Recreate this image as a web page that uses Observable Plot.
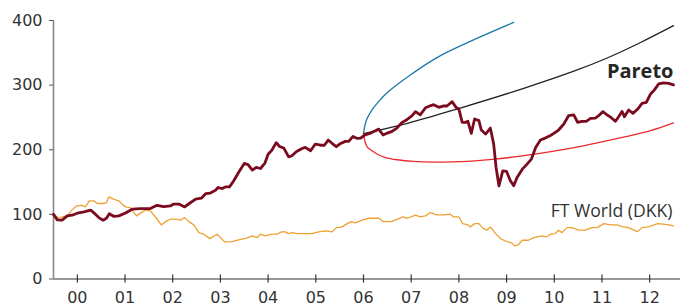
<!DOCTYPE html>
<html><head><meta charset="utf-8">
<script src="https://cdn.jsdelivr.net/npm/d3@7"></script>
<script src="https://cdn.jsdelivr.net/npm/@observablehq/plot@0.6"></script>
<style>html,body{margin:0;padding:0;background:#fff;}</style>
</head><body><div id="chart"></div>
<script>
const tickYears = [2000,2001,2002,2003,2004,2005,2006,2007,2008,2009,2010,2011,2012];
const tickLabels = ["00","01","02","03","04","05","06","07","08","09","10","11","12"];
const yTicks = [0,100,200,300,400];

const paretoYears = [1999.50,1999.58,1999.68,1999.79,1999.89,2000.00,2000.14,2000.28,2000.34,2000.45,2000.54,2000.61,2000.67,2000.76,2000.87,2001.01,2001.15,2001.32,2001.53,2001.67,2001.81,2001.95,2002.02,2002.13,2002.25,2002.37,2002.48,2002.60,2002.69,2002.79,2002.90,2002.95,2003.04,2003.11,2003.19,2003.28,2003.38,2003.50,2003.58,2003.67,2003.75,2003.84,2003.93,2004.00,2004.08,2004.17,2004.24,2004.33,2004.43,2004.50,2004.59,2004.70,2004.78,2004.89,2004.99,2005.10,2005.18,2005.26,2005.34,2005.43,2005.52,2005.62,2005.69,2005.78,2005.87,2005.94,2006.03,2006.15,2006.25,2006.32,2006.41,2006.50,2006.60,2006.70,2006.81,2006.91,2007.02,2007.09,2007.19,2007.30,2007.40,2007.47,2007.58,2007.68,2007.75,2007.86,2007.94,2008.00,2008.07,2008.14,2008.19,2008.26,2008.33,2008.42,2008.47,2008.56,2008.66,2008.73,2008.78,2008.84,2008.92,2009.00,2009.08,2009.15,2009.22,2009.33,2009.43,2009.52,2009.61,2009.71,2009.81,2009.92,2009.99,2010.09,2010.20,2010.30,2010.41,2010.49,2010.58,2010.67,2010.76,2010.86,2010.93,2011.02,2011.11,2011.19,2011.28,2011.35,2011.42,2011.47,2011.56,2011.65,2011.75,2011.84,2011.93,2012.02,2012.10,2012.19,2012.29,2012.40,2012.50];
const paretoValues = [100,91.5,91,97.7,98.7,101.8,104,106.5,102.8,95,91,94,101,97,97.7,102,108,109,109,114,112,113,116,116,111.6,118,123.5,125,132,133,137.5,141.6,140,142.6,142.6,152,164.8,178.8,177,168.5,172.6,171,178.8,193,199.5,211,205,202.6,189,190.7,197,201.5,203.6,198.4,208.8,207,207,215,210,204.7,209.8,212.9,212.9,220.6,217.5,218,223,225.8,229.5,232,222.8,225.8,228.4,233.6,242.4,246.5,252.7,259,254,265,268,269.8,265.6,268,267.7,274.4,265.6,263,242.4,242.4,244,225.3,247.6,245,230.5,224.3,233.6,208.8,172.6,144.2,167.4,166.4,152,144.2,157,170,177.8,185.6,203.6,215,218,222,225.3,230.5,239.8,252.7,254,242.4,244,244,248.5,249,252.7,259,253.8,250,244,251,259.4,251,261.5,256.3,263,271.8,273.3,286.4,292.6,301.9,303.4,302.8,300.3];

const ftYears = [1999.50,1999.61,1999.68,1999.79,1999.87,1999.98,2000.10,2000.17,2000.25,2000.34,2000.42,2000.55,2000.61,2000.66,2000.76,2000.87,2000.94,2001.01,2001.11,2001.24,2001.34,2001.43,2001.53,2001.66,2001.76,2001.85,2001.95,2002.06,2002.16,2002.25,2002.34,2002.44,2002.55,2002.65,2002.78,2002.93,2003.09,2003.25,2003.38,2003.53,2003.67,2003.77,2003.84,2003.94,2004.08,2004.19,2004.28,2004.36,2004.43,2004.50,2004.61,2004.75,2004.92,2005.06,2005.20,2005.34,2005.43,2005.55,2005.66,2005.74,2005.83,2005.97,2006.11,2006.32,2006.42,2006.58,2006.71,2006.83,2006.92,2007.09,2007.19,2007.30,2007.40,2007.54,2007.68,2007.82,2007.89,2008.00,2008.08,2008.19,2008.24,2008.33,2008.42,2008.50,2008.59,2008.66,2008.77,2008.89,2009.01,2009.10,2009.17,2009.24,2009.33,2009.46,2009.57,2009.64,2009.74,2009.83,2009.92,2010.02,2010.09,2010.16,2010.27,2010.37,2010.51,2010.65,2010.79,2010.90,2011.04,2011.18,2011.32,2011.42,2011.56,2011.74,2011.84,2011.98,2012.16,2012.29,2012.40,2012.50];
const ftValues = [100,94,96,97.7,105.4,113,114,111.6,121,121,116.8,116.8,118.3,127,123.5,121,115.8,111.6,110.5,97.7,102.8,106.5,105.4,94,83.7,88.8,92.5,92.5,91,95,88.8,83.7,71.8,69.3,62.5,69.3,57.4,57.8,60.5,63,66.7,64,69.3,66.7,69.3,69.3,72.9,72.9,70.2,71.8,70.2,70.2,70.2,72.9,74.4,72.9,79.5,80.6,85.7,88.8,86.8,91,94,94,88.8,88.8,92.5,96,94,98.7,96,97.7,102.8,99.2,99.2,100.3,96,96,85.7,83.7,80.6,85.7,85.7,78.6,75.5,80.6,70.2,61.5,57.8,56.3,51.2,52.7,60,60,64,65.1,66.7,65.1,69.3,70.2,75.5,71.8,79.5,79.5,75.5,75.5,79.5,79.5,85.7,83.7,83.7,81,79.5,73.3,79.5,80.6,85.7,84.8,83.7,82.2];

const upperYears = [2006.00,2006.03,2006.08,2006.19,2006.36,2006.50,2006.93,2007.55,2008.25,2009.15];
const upperValues = [225,238,249,263,278,288.5,313,343,368,397];
const midYears = [2006.00,2006.92,2007.96,2009.36,2010.41,2011.11,2011.81,2012.50];
const midValues = [225,241,263,295,321.5,342,366,392];
const lowerYears = [2006.00,2006.03,2006.08,2006.17,2006.29,2006.46,2006.71,2007.05,2007.51,2008.03,2008.70,2009.29,2009.93,2010.61,2011.33,2012.02,2012.50];
const lowerValues = [225,213,204,199,193,188,184.5,182,181,181.5,185,190,197,206,217.5,229.5,241.5];

const zip = (xs, ys) => xs.map((x, i) => ({x, y: ys[i]}));
const pareto = zip(paretoYears, paretoValues);
const ft = zip(ftYears, ftValues);
const upper = zip(upperYears, upperValues);
const mid = zip(midYears, midValues);
const lower = zip(lowerYears, lowerValues);

const chart = Plot.plot({
  width: 680, height: 307,
  marginLeft: 53, marginRight: 0, marginTop: 20, marginBottom: 28.5,
  x: {domain: [1999.5, 2012.647]},
  y: {domain: [yTicks[0], yTicks[yTicks.length - 1]]},
  style: {fontFamily: "DejaVu Sans", fontSize: "16px", color: "#333", background: "#fff"},
  marks: [
    Plot.ruleY([yTicks[0]], {stroke: "#333", strokeWidth: 1.2}),
    Plot.ruleX(tickYears, {x: d => d, y1: yTicks[0], y2: yTicks[0], insetTop: -4, insetBottom: -4, stroke: "#333", strokeWidth: 1.2}),
    Plot.ruleX([paretoYears[0]], {y1: yTicks[0], y2: yTicks[yTicks.length - 1], stroke: "#888", strokeWidth: 1.6}),
    Plot.axisY({ticks: yTicks, tickSize: 4, tickPadding: 7, label: null, stroke: "#555"}),
    Plot.axisX({ticks: tickYears, tickFormat: d => tickLabels[tickYears.indexOf(d)], tickSize: 0, tickPadding: 13, label: null}),
    Plot.line(ft, {x: "x", y: "y", stroke: "#eea032", strokeWidth: 1.3, strokeLinejoin: "round"}),
    Plot.line(upper, {x: "x", y: "y", stroke: "#1b78a6", strokeWidth: 1.3, curve: "catmull-rom"}),
    Plot.line(mid, {x: "x", y: "y", stroke: "#222", strokeWidth: 1.3, curve: "catmull-rom"}),
    Plot.line(lower, {x: "x", y: "y", stroke: "#ea2a2e", strokeWidth: 1.3, curve: "catmull-rom"}),
    Plot.line(pareto, {x: "x", y: "y", stroke: "#7a0a1e", strokeWidth: 2.8, strokeLinejoin: "round", strokeLinecap: "round"}),
    Plot.text([{x: paretoYears[paretoYears.length - 1], y: paretoValues[paretoValues.length - 1], label: "Pareto"}],
      {x: "x", y: "y", text: "label", textAnchor: "end", dy: -13.3, fontFamily: "Open Sans", fontWeight: 700, fontSize: 20, fill: "#262626"}),
    Plot.text([{x: ftYears[ftYears.length - 1], y: ftValues[ftValues.length - 1], label: "FT World (DKK)"}],
      {x: "x", y: "y", text: "label", textAnchor: "end", dx: -1, dy: -14.8, fontFamily: "Open Sans", fontSize: 17.6, fill: "#333"})
  ]
});
document.getElementById("chart").appendChild(chart);
</script>
</body></html>
